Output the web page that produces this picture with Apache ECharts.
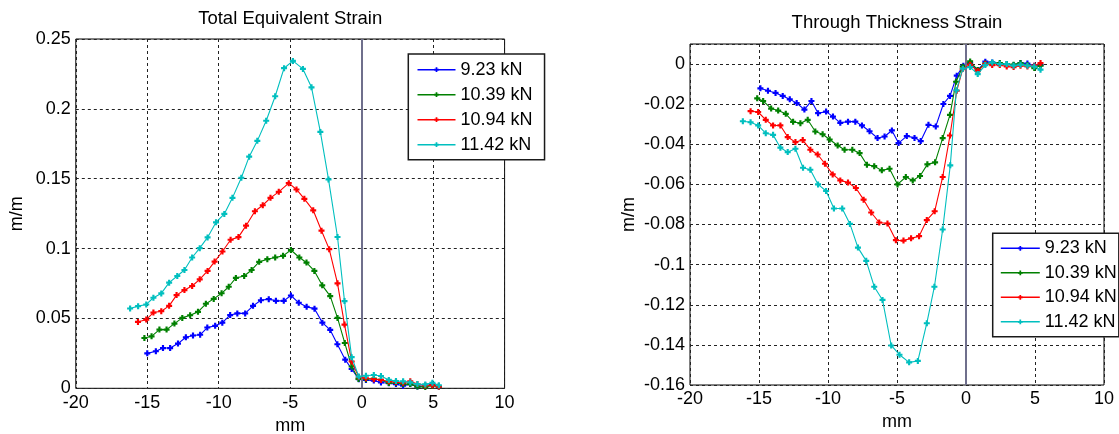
<!DOCTYPE html>
<html>
<head>
<meta charset="utf-8">
<script src="https://cdn.jsdelivr.net/npm/echarts@6/dist/echarts.min.js"></script>
<style>
html,body{margin:0;padding:0;background:#fff;}
#c{width:1119px;height:434px;}
</style>
</head>
<body>
<div id="c"></div>
<script>
// ---------- series names / colours ----------
const seriesNames = ['9.23 kN', '10.39 kN', '10.94 kN', '11.42 kN'];
const seriesColors = ['#0000ff', '#008000', '#ff0000', '#00bfbf'];

// ---------- Total Equivalent Strain (mm, m/m) ----------
const teX923 = [-15,-14.4,-13.9,-13.4,-12.85,-12.3,-11.8,-11.3,-10.8,-10.25,-9.75,-9.2,-8.7,-8.15,-7.6,-7.05,-6.5,-6.0,-5.45,-4.95,-4.4,-3.85,-3.3,-2.75,-2.2,-1.7,-1.15,-0.7,-0.2,0.3,0.85,1.35,1.9,2.4,2.9,3.4,3.9,4.45,4.95,5.4];
const teY923 = [0.025,0.0265,0.0288,0.0288,0.032,0.0365,0.0378,0.0383,0.0435,0.0447,0.047,0.0524,0.0536,0.0536,0.059,0.063,0.0638,0.0626,0.0626,0.0664,0.0612,0.0583,0.057,0.047,0.0418,0.0315,0.0205,0.0138,0.0065,0.006,0.0055,0.0042,0.0036,0.003,0.0018,0.003,0.0012,0.0018,0.0028,0.0012];

const teX1039 = [-15.2,-14.7,-14.15,-13.65,-13.1,-12.55,-12.0,-11.45,-10.9,-10.35,-9.8,-9.3,-8.8,-8.22,-7.7,-7.17,-6.6,-6.05,-5.5,-4.95,-4.36,-3.86,-3.31,-2.76,-2.2,-1.69,-1.18,-0.7,-0.22,0.3,0.85,1.35,1.9,2.4,2.9,3.4,3.9,4.45,4.95,5.4];
const teY1039 = [0.036,0.0372,0.042,0.042,0.0463,0.0504,0.0523,0.0547,0.0605,0.064,0.068,0.0727,0.079,0.0804,0.0847,0.0905,0.0924,0.0936,0.0948,0.099,0.0936,0.09,0.084,0.0737,0.066,0.0504,0.0324,0.0156,0.0067,0.0065,0.007,0.006,0.0038,0.004,0.003,0.003,0.0012,0.001,0.002,0.0012];

const teX1094 = [-15.65,-15.07,-14.57,-14.02,-13.47,-12.95,-12.4,-11.86,-11.33,-10.78,-10.29,-9.74,-9.17,-8.62,-8.09,-7.47,-6.92,-6.38,-5.8,-5.1,-4.56,-4.01,-3.39,-2.81,-2.27,-1.69,-1.2,-0.7,-0.2,0.3,0.85,1.35,1.9,2.4,2.9,3.4,3.9,4.45,4.95,5.4];
const teY1094 = [0.0475,0.0492,0.0542,0.0552,0.059,0.0667,0.0703,0.0732,0.078,0.084,0.0907,0.0979,0.1063,0.1082,0.1164,0.1267,0.131,0.1363,0.1406,0.1468,0.1423,0.1356,0.1274,0.1128,0.0996,0.0751,0.0456,0.0192,0.008,0.0072,0.0065,0.006,0.005,0.0045,0.004,0.005,0.003,0.002,0.0022,0.0012];

const teX1142 = [-16.2,-15.64,-15.07,-14.57,-14.02,-13.47,-12.9,-12.4,-11.86,-11.33,-10.78,-10.19,-9.61,-9.04,-8.42,-7.87,-7.3,-6.68,-6.05,-5.43,-4.81,-4.11,-3.51,-2.89,-2.32,-1.69,-1.2,-0.7,-0.2,0.3,0.85,1.35,1.9,2.4,2.9,3.4,3.9,4.45,4.95,5.4];
const teY1142 = [0.0571,0.0588,0.06,0.0648,0.0679,0.0756,0.0804,0.0847,0.0936,0.1003,0.108,0.1188,0.1248,0.1363,0.1507,0.1658,0.1771,0.1915,0.209,0.2291,0.2343,0.2286,0.2154,0.1835,0.1495,0.1083,0.0624,0.0223,0.0084,0.009,0.0095,0.0088,0.006,0.0052,0.005,0.0042,0.003,0.0028,0.004,0.0022];

// ---------- Through Thickness Strain (mm, m/m) ----------
const ttX923 = [-14.9,-14.35,-13.8,-13.28,-12.77,-12.27,-11.71,-11.2,-10.72,-10.14,-9.64,-9.11,-8.55,-8.02,-7.54,-6.99,-6.41,-5.9,-5.37,-4.89,-4.29,-3.73,-3.28,-2.72,-2.19,-1.64,-1.16,-0.67,-0.19,0.3,0.85,1.4,1.9,2.45,2.95,3.45,3.95,4.45,4.95,5.4];
const ttY923 = [-0.0121,-0.0133,-0.0144,-0.0159,-0.0176,-0.0194,-0.0227,-0.0184,-0.0245,-0.0237,-0.0262,-0.0293,-0.0287,-0.0287,-0.0306,-0.0335,-0.0369,-0.0361,-0.0331,-0.0394,-0.0359,-0.0368,-0.0384,-0.0303,-0.0311,-0.0199,-0.0159,-0.0058,-0.0008,0.0005,-0.003,0.0012,0.0008,0.0002,0,-0.0005,0.0005,0.0003,-0.0008,-0.0005];

const ttX1039 = [-15.13,-14.7,-14.12,-13.61,-13.06,-12.53,-12.0,-11.47,-10.92,-10.39,-9.88,-9.3,-8.8,-8.24,-7.71,-7.18,-6.65,-6.1,-5.54,-4.96,-4.36,-3.86,-3.33,-2.8,-2.24,-1.69,-1.16,-0.72,-0.24,0.3,0.85,1.4,1.9,2.45,2.95,3.45,3.95,4.45,4.95,5.4];
const ttY1039 = [-0.0171,-0.0184,-0.0222,-0.0232,-0.0248,-0.0288,-0.0295,-0.0278,-0.0336,-0.035,-0.0376,-0.0406,-0.0427,-0.0427,-0.0444,-0.0502,-0.0509,-0.053,-0.0522,-0.06,-0.0563,-0.058,-0.0558,-0.05,-0.049,-0.0369,-0.0253,-0.0088,-0.0013,0.0013,-0.003,0.0003,0.0005,0.0005,0,-0.0003,0.0005,-0.0005,-0.002,-0.0008];

const ttX1094 = [-15.61,-15.06,-14.51,-13.98,-13.45,-12.92,-12.36,-11.83,-11.28,-10.75,-10.22,-9.66,-9.11,-8.55,-7.98,-7.42,-6.87,-6.29,-5.69,-5.08,-4.53,-3.98,-3.4,-2.84,-2.27,-1.69,-1.16,-0.67,-0.24,0.3,0.85,1.4,1.9,2.45,2.95,3.45,3.95,4.45,4.95,5.4];
const ttY1094 = [-0.0235,-0.0239,-0.0278,-0.0306,-0.0306,-0.0364,-0.0389,-0.0379,-0.0427,-0.0451,-0.0497,-0.055,-0.058,-0.0591,-0.0618,-0.0676,-0.074,-0.079,-0.0795,-0.0878,-0.088,-0.0869,-0.0858,-0.0778,-0.0734,-0.0563,-0.0356,-0.0133,-0.0025,-0.0003,-0.0035,0,-0.0005,-0.0005,-0.0012,-0.0015,-0.0008,-0.0012,-0.0008,0.0005];

const ttX1142 = [-16.17,-15.61,-15.06,-14.51,-13.98,-13.45,-12.92,-12.36,-11.81,-11.28,-10.72,-10.14,-9.57,-8.97,-8.41,-7.83,-7.23,-6.65,-6.05,-5.42,-4.82,-4.12,-3.49,-2.84,-2.29,-1.69,-1.14,-0.7,-0.23,0.3,0.85,1.4,1.9,2.45,2.95,3.45,3.95,4.45,4.95,5.4];
const ttY1142 = [-0.0285,-0.029,-0.0306,-0.0345,-0.0353,-0.0417,-0.0439,-0.0422,-0.0517,-0.0527,-0.06,-0.0633,-0.072,-0.072,-0.0797,-0.0915,-0.0981,-0.111,-0.1176,-0.1403,-0.1449,-0.1487,-0.148,-0.1292,-0.111,-0.0825,-0.0505,-0.0131,-0.0023,-0.0015,-0.005,-0.0005,0.0008,0,0,-0.0008,-0.0003,-0.0008,-0.0012,-0.0028];

// ---------- titles / axis names ----------
const titles = ['Total Equivalent Strain', 'Through Thickness Strain'];
const xName = 'mm';
const yName = 'm/m';

// ---------- build ----------
const FONT = "'Liberation Sans', Arial, sans-serif";
const pairs = (xs, ys) => xs.map((x, i) => [x, ys[i]]);
const leftData = [[teX923, teY923], [teX1039, teY1039], [teX1094, teY1094], [teX1142, teY1142]];
const rightData = [[ttX923, ttY923], [ttX1039, ttY1039], [ttX1094, ttY1094], [ttX1142, ttY1142]];
const plusSym = 'path://M1.6,0H3.4V1.6H5V3.4H3.4V5H1.6V3.4H0V1.6H1.6Z';

const zeroLine = {
  silent: true, symbol: ['none', 'none'], label: { show: false },
  lineStyle: { color: '#6f6f8c', width: 2, type: 'solid' },
  emphasis: { disabled: true },
  data: [{ xAxis: 0 }]
};

function mkSeries(dataSets, gi) {
  return dataSets.map((d, i) => {
    const s = {
      type: 'line', name: seriesNames[i],
      xAxisIndex: gi, yAxisIndex: gi,
      data: pairs(d[0], d[1]),
      symbol: plusSym, symbolSize: 6, showSymbol: true,
      lineStyle: { color: seriesColors[i], width: 1.1 },
      itemStyle: { color: seriesColors[i] },
      emphasis: { disabled: true },
      z: 3 + i
    };
    if (i === 0) s.markLine = zeroLine;
    return s;
  });
}

const splitStyle = { show: true, lineStyle: { color: '#222', width: 1, type: [3, 3] } };
const labelStyle = { color: '#000', fontSize: 18, fontFamily: FONT };

function xAx(gi, margin, gap) {
  return {
    type: 'value', gridIndex: gi, min: -20, max: 10, interval: 5,
    axisLine: { show: false }, axisTick: { show: false },
    axisLabel: Object.assign({ margin: margin }, labelStyle),
    splitLine: splitStyle,
    name: xName, nameLocation: 'middle', nameGap: gap,
    nameTextStyle: { color: '#000', fontSize: 18, fontFamily: FONT }
  };
}

const option = {
  animation: false,
  backgroundColor: '#fff',
  textStyle: { fontFamily: FONT },
  grid: [
    { left: 75.8, top: 39, width: 428.8, height: 349.3, show: true, borderColor: '#000', borderWidth: 1, backgroundColor: '#fff', containLabel: false, outerBoundsMode: 'none' },
    { left: 690, top: 44, width: 414, height: 341, show: true, borderColor: '#000', borderWidth: 1, backgroundColor: '#fff', containLabel: false, outerBoundsMode: 'none' }
  ],
  xAxis: [xAx(0, 6, 27), xAx(1, 5, 27)],
  yAxis: [
    {
      type: 'value', gridIndex: 0, min: 0, max: 0.25, interval: 0.05,
      axisLine: { show: false }, axisTick: { show: false },
      axisLabel: Object.assign({ margin: 5, formatter: v => String(+v.toFixed(2)) }, labelStyle),
      splitLine: splitStyle,
      name: yName, nameLocation: 'middle', nameGap: 50,
      nameTextStyle: { color: '#000', fontSize: 18, fontFamily: FONT }
    },
    {
      type: 'value', gridIndex: 1, min: -0.16, max: 0.01, interval: 0.02,
      axisLine: { show: false }, axisTick: { show: false },
      axisLabel: Object.assign({ margin: 5, formatter: v => (v > 0.005 ? '' : String(+v.toFixed(2))) }, labelStyle),
      splitLine: splitStyle,
      name: yName, nameLocation: 'middle', nameGap: 52,
      nameTextStyle: { color: '#000', fontSize: 18, fontFamily: FONT }
    }
  ],
  legend: [
    {
      data: seriesNames, orient: 'vertical', left: 408.3, top: 54,
      itemWidth: 38, itemHeight: 6, itemGap: 7,
      padding: [6.7, 12, 6, 8.4],
      backgroundColor: '#fff', borderColor: '#1a1a1a', borderWidth: 1.5, borderRadius: 0,
      textStyle: { color: '#000', fontSize: 18, fontFamily: FONT },
      lineStyle: { width: 1.6 }, selectedMode: false
    },
    {
      data: seriesNames, orient: 'vertical', left: 992.7, top: 233.3,
      itemWidth: 39, itemHeight: 6, itemGap: 6.5,
      padding: [6, 2, 6, 7.3],
      backgroundColor: '#fff', borderColor: '#1a1a1a', borderWidth: 1.5, borderRadius: 0,
      textStyle: { color: '#000', fontSize: 18, fontFamily: FONT },
      lineStyle: { width: 1.6 }, selectedMode: false
    }
  ],
  graphic: [
    { type: 'text', x: 290.2, y: 19, style: { text: titles[0], font: '18.5px ' + FONT, fill: '#000', align: 'center', verticalAlign: 'middle' } },
    { type: 'text', x: 897, y: 23.3, style: { text: titles[1], font: '18.5px ' + FONT, fill: '#000', align: 'center', verticalAlign: 'middle' } }
  ],
  series: mkSeries(leftData, 0).concat(mkSeries(rightData, 1))
};

const chart = echarts.init(document.getElementById('c'), null, { renderer: 'canvas' });
chart.setOption(option);
</script>
</body>
</html>
